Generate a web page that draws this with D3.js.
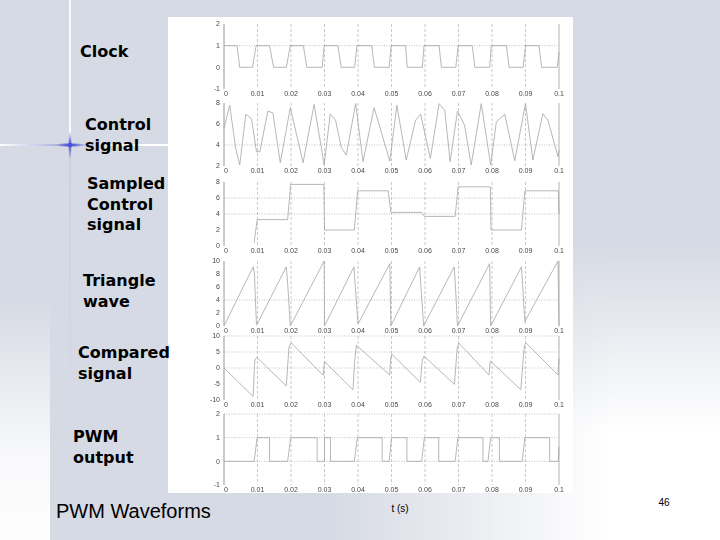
<!DOCTYPE html>
<html><head><meta charset="utf-8">
<script src="https://cdn.jsdelivr.net/npm/d3@7"></script>
<style>html,body{margin:0;padding:0;background:#fff}svg{display:block}.tk{opacity:0.99}</style>
</head><body><svg id="c" width="720" height="540"></svg>
<script>
// ---------- data ----------
const xTicks = [0,0.01,0.02,0.03,0.04,0.05,0.06,0.07,0.08,0.09,0.1];
const xTickLabels = ["0","0.01","0.02","0.03","0.04","0.05","0.06","0.07","0.08","0.09","0.1"];
const panelNames = [["Clock"],["Control","signal"],["Sampled","Control","signal"],["Triangle","wave"],["Compared","signal"],["PWM","output"]];
const yDomains = [[-1,2],[2,8],[0,8],[0,10],[-10,10],[-1,2]];
const yTicks = [[2,1,0,-1],[8,6,4,2],[8,6,4,2,0],[10,8,6,4,2,0],[10,5,0,-5,-10],[2,1,0,-1]];
const yTickLabels = [["2","1","0","-1"],["8","6","4","2"],["8","6","4","2","0"],["10","8","6","4","2","0"],["10","5","0","-5","-10"],["2","1","0","-1"]];
const yGrid = [[1],[4],[6,4],[4],[10,5,0],[2,1,0]];

const clock = [[0,1],[0.0039,1],[0.0047,0],[0.0085,0],[0.0096,1],[0.0136,1],[0.0148,0],[0.0186,0],[0.0198,1],[0.0237,1],[0.0247,0],[0.0293,0],[0.0299,1],[0.0340,1],[0.0350,0],[0.0390,0],[0.0397,1],[0.0441,1],[0.0449,0],[0.0493,0],[0.0499,1],[0.0542,1],[0.0547,0],[0.0592,0],[0.0597,1],[0.0642,1],[0.0649,0],[0.0692,0],[0.0699,1],[0.0741,1],[0.0749,0],[0.0793,0],[0.0798,1],[0.0843,1],[0.0851,0],[0.0893,0],[0.0900,1],[0.0940,1],[0.0948,0],[0.0995,0],[0.1,0.7]];

const control = [[0,5.57],[0.0017,7.78],[0.0035,3.67],[0.0047,2.1],[0.0065,6.93],[0.0082,6.52],[0.0097,3.36],[0.0107,3.36],[0.0131,7.24],[0.0146,7.05],[0.0168,2.32],[0.0198,7.56],[0.0236,2.32],[0.0269,7.87],[0.0299,2.1],[0.0317,6.93],[0.0333,6.36],[0.035,3.77],[0.0365,3.04],[0.0393,7.94],[0.0415,2.41],[0.0448,7.56],[0.0495,2.47],[0.0516,7.78],[0.0544,2.57],[0.0572,6.36],[0.0587,6.93],[0.0616,2.73],[0.0642,7.94],[0.0659,7.31],[0.0675,2.41],[0.0697,7.24],[0.0718,5.88],[0.0738,2.1],[0.0768,7.94],[0.0796,2.1],[0.0813,6.2],[0.0838,6.93],[0.0868,2.51],[0.09,7.94],[0.0922,2.57],[0.0952,6.99],[0.0967,6.36],[0.0997,2.88],[0.1,3.5]];

const sampled = [[0.009,0.4],[0.0099,3.3],[0.019,3.3],[0.0199,7.7],[0.0298,7.7],[0.03,2.0],[0.0389,2.0],[0.0399,6.9],[0.049,6.9],[0.0498,4.2],[0.059,4.2],[0.0598,3.7],[0.069,3.7],[0.0699,7.4],[0.0795,7.4],[0.0797,2.0],[0.0888,2.0],[0.0898,6.9],[0.0998,6.9],[0.1,4.0]];

const triangle = [[0,0],[0.0087,9.1],[0.0091,8.1],[0.0093,5.0],[0.0097,0.2],[0.0098,0.2],[0.0186,9.1],[0.019,6.6],[0.0198,0],[0.0299,10],[0.03,0],[0.0388,9.1],[0.0391,6.6],[0.04,0.3],[0.0495,9.6],[0.0498,0],[0.0584,9.1],[0.0587,6.6],[0.0596,0],[0.0687,9.1],[0.069,7.0],[0.0697,0],[0.0793,9.6],[0.0796,0],[0.0888,9.1],[0.0891,6.6],[0.0898,0.7],[0.0997,10],[0.1,0]];

const compared = [[0,0],[0.0087,-8.9],[0.0092,2.5],[0.0098,3.3],[0.0186,-5.6],[0.0194,6.6],[0.0201,7.8],[0.0296,-2.3],[0.03,2.0],[0.0385,-6.8],[0.039,2.0],[0.0395,7.1],[0.0495,-2.2],[0.0497,2.5],[0.0501,4.3],[0.0586,-4.5],[0.0592,2.5],[0.0597,3.7],[0.0688,-5.1],[0.0696,6.1],[0.0701,7.8],[0.0791,-2.2],[0.0795,2.2],[0.0886,-6.8],[0.0893,2.5],[0.0897,7.1],[0.0902,7.8],[0.0997,-2.2],[0.1,3.0]];

const pwm = [[0,0],[0.009,0],[0.0099,1],[0.0136,1],[0.0136,0],[0.019,0],[0.0199,1],[0.0278,1],[0.0278,0],[0.03,0],[0.03,1],[0.0318,1],[0.0318,0],[0.0389,0],[0.0398,1],[0.0472,1],[0.0472,0],[0.0493,0],[0.05,1],[0.0546,1],[0.0546,0],[0.059,0],[0.0598,1],[0.0641,1],[0.0641,0],[0.069,0],[0.0698,1],[0.0773,1],[0.0773,0],[0.0788,0],[0.0796,1],[0.0822,1],[0.0822,0],[0.089,0],[0.0898,1],[0.0972,1],[0.0972,0],[0.0998,0],[0.1,0.6]];

const series = [clock, control, sampled, triangle, compared, pwm];
const slideTitle = "PWM Waveforms";
const xAxisTitle = "t (s)";
const pageNumber = "46";

// ---------- layout ----------
const W = 720, H = 540;
const plotBox = {x0:168, y0:17, x1:573, y1:493};
const xRange = [224, 559];
const panelTop = [24,103,182,261,336,414];
const panelBottom = [89,166,246,326,400,485];
const labelX = [80,85,87,83,78,73];
const labelBase = [57,130,189,286,358,442];
const lineGap = 20.5;

const svg = d3.select("#c");
const defs = svg.append("defs");

// background gradients
const gh = defs.append("linearGradient").attr("id","fadeH").attr("x1","0").attr("y1","0").attr("x2","1").attr("y2","0");
gh.append("stop").attr("offset","0.45").attr("stop-color","#fff").attr("stop-opacity",0);
gh.append("stop").attr("offset","0.85").attr("stop-color","#fff").attr("stop-opacity",1);
const gv = defs.append("linearGradient").attr("id","maskV").attr("x1","0").attr("y1","0").attr("x2","0").attr("y2","1");
gv.append("stop").attr("offset","0").attr("stop-color","#000");
gv.append("stop").attr("offset","0.45").attr("stop-color","#000");
gv.append("stop").attr("offset","0.8").attr("stop-color","#fff");
gv.append("stop").attr("offset","1").attr("stop-color","#fff");
defs.append("mask").attr("id","mV").attr("maskUnits","userSpaceOnUse")
  .append("rect").attr("width",W).attr("height",H).attr("fill","url(#maskV)");
const g2 = defs.append("linearGradient").attr("id","fadeV").attr("x1","0").attr("y1","0").attr("x2","0").attr("y2","1");
g2.append("stop").attr("offset","0").attr("stop-color","#fff").attr("stop-opacity",0);
g2.append("stop").attr("offset","0.55").attr("stop-color","#fff").attr("stop-opacity",0);
g2.append("stop").attr("offset","0.85").attr("stop-color","#fff").attr("stop-opacity",0.85);
g2.append("stop").attr("offset","1").attr("stop-color","#fff").attr("stop-opacity",0.95);
const g3 = defs.append("linearGradient").attr("id","lineH").attr("x1","0").attr("y1","0").attr("x2","1").attr("y2","0");
g3.append("stop").attr("offset","0").attr("stop-color","#ffffff");
g3.append("stop").attr("offset","0.42").attr("stop-color","#9ea3da");
g3.append("stop").attr("offset","0.7").attr("stop-color","#ffffff");
g3.append("stop").attr("offset","1").attr("stop-color","#ffffff");
const g5 = defs.append("linearGradient").attr("id","lineV").attr("x1","0").attr("y1","0").attr("x2","0").attr("y2","1");
g5.append("stop").attr("offset","0").attr("stop-color","#c8ccd8");
g5.append("stop").attr("offset","0.25").attr("stop-color","#c8ccd8").attr("stop-opacity",0.6);
g5.append("stop").attr("offset","1").attr("stop-color","#c8ccd8").attr("stop-opacity",0);
const g4 = defs.append("radialGradient").attr("id","star");
g4.append("stop").attr("offset","0").attr("stop-color","#3a3fd0").attr("stop-opacity",1);
g4.append("stop").attr("offset","1").attr("stop-color","#3a3fd0").attr("stop-opacity",0);

svg.append("rect").attr("width",W).attr("height",H).attr("fill","#d6dae4");
svg.append("rect").attr("width",W).attr("height",H).attr("fill","url(#fadeH)").attr("mask","url(#mV)");
svg.append("rect").attr("x",0).attr("y",0).attr("width",50).attr("height",H).attr("fill","url(#fadeV)");
svg.append("line").attr("x1",70).attr("x2",70).attr("y1",0).attr("y2",140).attr("stroke","#fff").attr("stroke-width",2).attr("opacity",0.9);
svg.append("rect").attr("x",69.3).attr("y",150).attr("width",1.5).attr("height",300).attr("fill","url(#lineV)");
svg.append("rect").attr("x",0).attr("y",144).attr("width",168).attr("height",2).attr("fill","url(#lineH)");
svg.append("ellipse").attr("cx",70).attr("cy",145).attr("rx",14).attr("ry",2.5).attr("fill","url(#star)");
svg.append("ellipse").attr("cx",70).attr("cy",145).attr("rx",2).attr("ry",14).attr("fill","url(#star)");
svg.append("circle").attr("cx",70).attr("cy",145).attr("r",2.2).attr("fill","#4a4fe0");

// white figure
svg.append("rect").attr("x",plotBox.x0).attr("y",plotBox.y0).attr("width",plotBox.x1-plotBox.x0).attr("height",plotBox.y1-plotBox.y0).attr("fill","#fff");

const x = d3.scaleLinear().domain([0,0.1]).range(xRange);
const tickFont = "Liberation Sans, Arial, sans-serif";

series.forEach((data, i) => {
  const y = d3.scaleLinear().domain(yDomains[i]).range([panelBottom[i], panelTop[i]]);
  const g = svg.append("g");
  // vertical grid
  g.selectAll("line.vg").data(xTicks.slice(1)).join("line")
    .attr("x1", d => x(d)).attr("x2", d => x(d))
    .attr("y1", panelTop[i]).attr("y2", panelBottom[i])
    .attr("stroke", d => d === 0.1 ? "#a0a0a0" : "#bcbcbc")
    .attr("stroke-width", 0.8)
    .attr("stroke-dasharray", d => d === 0.1 ? null : "3,2");
  // horizontal grid
  g.selectAll("line.hg").data(yGrid[i]).join("line")
    .attr("x1", xRange[0]).attr("x2", xRange[1])
    .attr("y1", d => y(d)).attr("y2", d => y(d))
    .attr("stroke", "#b4b4b4").attr("stroke-width", 0.8).attr("stroke-dasharray", "1,1.5");
  // y axis line
  g.append("line").attr("x1", xRange[0]).attr("x2", xRange[0])
    .attr("y1", panelTop[i]).attr("y2", panelBottom[i]).attr("stroke","#8c8c8c").attr("stroke-width",0.9);
  const tg = g.append("g").attr("class","tk");
  // y tick labels
  tg.selectAll("text.yt").data(yTicks[i]).join("text")
    .attr("x", xRange[0] - 4).attr("y", d => y(d)).attr("dy","0.35em")
    .attr("text-anchor","end").attr("font-family", tickFont).attr("font-size", 7)
    .attr("fill","#444").text((d,j) => yTickLabels[i][j]);
  // x tick labels
  tg.selectAll("text.xt").data(xTicks).join("text")
    .attr("x", d => x(d) + (d===0 ? 2 : 0)).attr("y", panelBottom[i] + 7)
    .attr("text-anchor","middle").attr("font-family", tickFont).attr("font-size", 7)
    .attr("fill","#444").text((d,j) => xTickLabels[j]);
  // trace
  const line = d3.line().x(d => x(d[0])).y(d => y(d[1]));
  g.append("path").datum(data).attr("d", line).attr("fill","none")
    .attr("stroke","#a4a4a4").attr("stroke-width",0.8);
  // label
  const t = svg.append("text").attr("font-family","DejaVu Sans, Verdana, sans-serif")
    .attr("font-weight","bold").attr("font-size",16).attr("fill","#000");
  panelNames[i].forEach((s, k) => {
    t.append("tspan").attr("x", labelX[i]).attr("y", labelBase[i] + k*lineGap).text(s);
  });
});

svg.append("text").attr("x",56).attr("y",518).attr("font-family","Liberation Sans, Arial, sans-serif")
  .attr("font-size",20).attr("fill","#000").text(slideTitle);
svg.append("text").attr("x",400).attr("y",512).attr("text-anchor","middle").attr("font-family","Liberation Sans, Arial, sans-serif")
  .attr("font-size",10).attr("fill","#000").text(xAxisTitle);
svg.append("text").attr("x",664).attr("y",506).attr("text-anchor","middle").attr("font-family","Liberation Sans, Arial, sans-serif")
  .attr("font-size",10).attr("fill","#000").text(pageNumber);
</script></body></html>
